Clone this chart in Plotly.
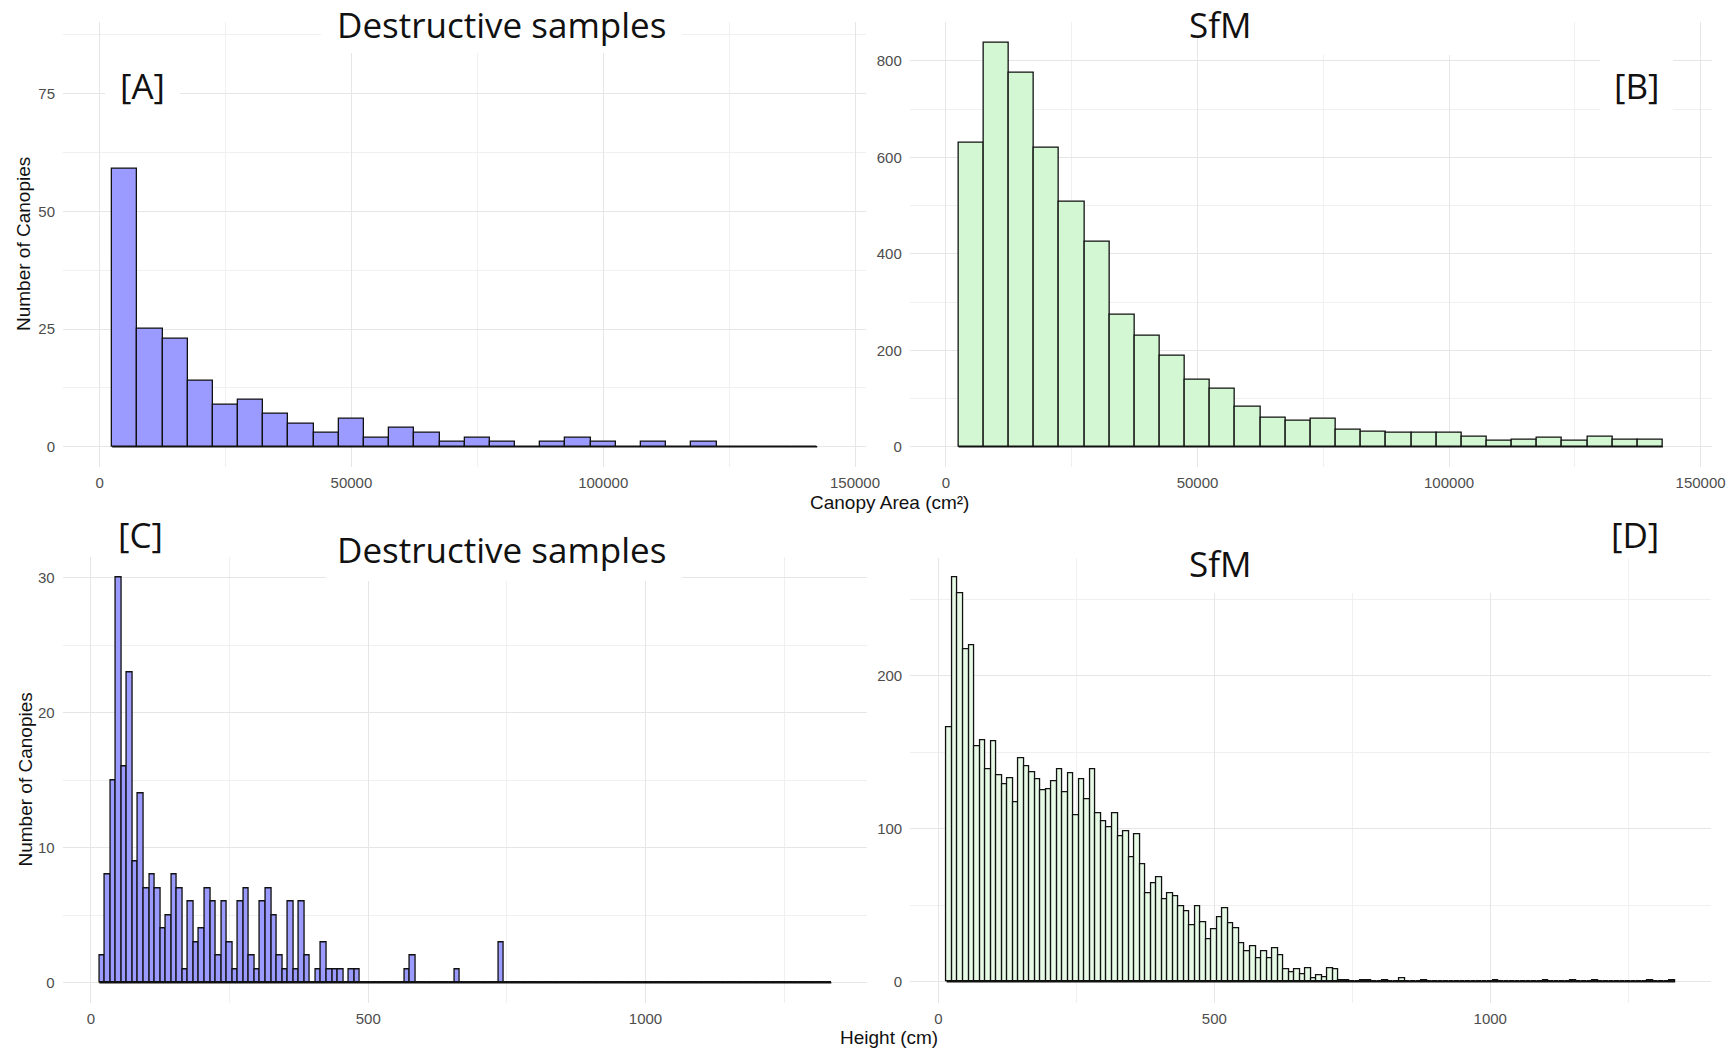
import plotly.graph_objects as go

W, H = 1735, 1050
# horizontal pixel scale observed for the rendered page
W_EFF = 1721

# ---------------- data ----------------
# Canopy area histograms: bins of 5000 cm², first bin starting at 2500 cm²
area_bin_start = 2500
area_bin_width = 5000
area_destructive_counts = [59, 25, 23, 14, 9, 10, 7, 5, 3, 6, 2, 4, 3, 1, 2, 1, 0, 1,
                           2, 1, 0, 1, 0, 1, 0, 0, 0, 0]
area_sfm_counts = [631, 837, 775, 619, 508, 426, 273, 231, 188, 139, 121, 84, 61, 55,
                   58, 35, 31, 30, 29, 29, 21, 12, 15, 18, 13, 21, 14, 15]

# Height histograms: bins of 10 cm, first bin starting at 15 cm, 132 bins (to 1335 cm)
height_bin_start = 15
height_bin_width = 10
height_n_bins = 132
# destructive samples: counts for bins centred 20..480 cm, plus isolated taller trees
height_destructive_main = [2, 8, 15, 30, 16, 23, 9, 14, 7, 8, 7, 4, 5, 8, 7, 1, 6, 3, 4, 7,
                           6, 2, 6, 3, 1, 6, 7, 2, 1, 6, 7, 5, 2, 1, 6, 1, 6, 2, 0, 1,
                           3, 1, 1, 1, 0, 1, 1]
height_destructive_tail = {570: 1, 580: 2, 660: 1, 740: 3}
# SfM: counts for bins centred 20..880 cm, plus sparse tail
height_sfm_main = [166, 264, 254, 217, 220, 154, 158, 139, 157, 135, 129, 133, 117, 146,
                   141, 137, 132, 125, 126, 131, 139, 124, 136, 109, 132, 119, 139, 110,
                   105, 101, 110, 95, 98, 81, 96, 77, 58, 64, 68, 54, 58, 56, 49, 46,
                   37, 49, 39, 28, 34, 42, 48, 38, 35, 25, 20, 23, 15, 20, 15, 22, 17,
                   8, 6, 8, 5, 9, 2, 4, 3, 9, 8, 1, 1, 0, 0, 1, 1, 0, 0, 1, 0, 0, 2,
                   0, 0, 0, 1]
height_sfm_tail = {1010: 1, 1100: 1, 1150: 1, 1190: 1, 1290: 1, 1330: 1}

area_ticks = [0, 50000, 100000, 150000]
height_ticks = [0, 500, 1000]


def centers(start, width, n):
    return [start + width * (i + 0.5) for i in range(n)]


def full_counts(main, tail, start, width, n):
    c = list(main) + [0] * (n - len(main))
    for k, v in tail.items():
        c[int(round((k - start - width / 2) / width))] = v
    return c


area_x = centers(area_bin_start, area_bin_width, len(area_destructive_counts))
height_x = centers(height_bin_start, height_bin_width, height_n_bins)
height_destructive_counts = full_counts(height_destructive_main, height_destructive_tail,
                                        height_bin_start, height_bin_width, height_n_bins)
height_sfm_counts = full_counts(height_sfm_main, height_sfm_tail,
                                height_bin_start, height_bin_width, height_n_bins)

# ---------------- figure ----------------
BLUE = "#9A9AFF"
GREEN_B = "#D3F6D3"
GREEN_D = "#E6FAE6"
OUT = "#111111"

fig = go.Figure()


def add_hist(x, y, width, fill, xa, ya):
    fig.add_trace(go.Bar(x=x, y=y, width=width, marker=dict(color=fill, line=dict(color=OUT, width=1.3)),
                         xaxis=xa, yaxis=ya, showlegend=False, hoverinfo="x+y"))
    lo = x[0] - width / 2
    hi = x[-1] + width / 2
    fig.add_trace(go.Scatter(x=[lo, hi], y=[0, 0], mode="lines", line=dict(color=OUT, width=1.6),
                             xaxis=xa, yaxis=ya, showlegend=False, hoverinfo="skip"))


add_hist(area_x, area_destructive_counts, area_bin_width, BLUE, "x", "y")
add_hist(area_x, area_sfm_counts, area_bin_width, GREEN_B, "x2", "y2")
add_hist(height_x, height_destructive_counts, height_bin_width, BLUE, "x3", "y3")
add_hist(height_x, height_sfm_counts, height_bin_width, GREEN_D, "x4", "y4")


def px_x(p):
    return p / W_EFF


def px_y(p):
    return 1 - p / H


GRID = "#E6E6E6"
MINOR = "#F0F0F0"
TICKFONT = dict(family="Liberation Sans, Arial, sans-serif", size=15, color="#4D4D4D")


def xax(dom, rng, dtick, anchor, ticks):
    return dict(domain=[px_x(dom[0]), px_x(dom[1])], range=rng, tickvals=ticks, tickformat="d",
                showgrid=True, gridcolor=GRID, gridwidth=1.2, zeroline=False, showline=False,
                ticks="", tickfont=TICKFONT, anchor=anchor, ticklabelstandoff=5,
                minor=dict(tick0=0, dtick=dtick / 2, showgrid=True, gridcolor=MINOR, gridwidth=0.8))


def yax(dom, rng, dtick, anchor):
    return dict(domain=[px_y(dom[1]), px_y(dom[0])], range=rng, tick0=0, dtick=dtick,
                showgrid=True, gridcolor=GRID, gridwidth=1.2, zeroline=False, showline=False,
                ticks="", tickfont=TICKFONT, anchor=anchor, ticklabelstandoff=7,
                minor=dict(tick0=0, dtick=dtick / 2, showgrid=True, gridcolor=MINOR, gridwidth=0.8))


fig.update_layout(
    width=W, height=H, autosize=False,
    margin=dict(l=0, r=0, t=0, b=0, pad=0),
    paper_bgcolor="white", plot_bgcolor="white",
    bargap=0,
    xaxis=xax((63, 866), [-7268, 152185], 50000, "y", area_ticks),
    yaxis=yax((21.7, 467), [-4.3, 90.3], 25, "x"),
    xaxis2=xax((909.8, 1712), [-7195, 152270], 50000, "y2", area_ticks),
    yaxis2=yax((21.7, 467), [-42, 881], 200, "x2"),
    xaxis3=xax((62.7, 866.8), [-51, 1399], 500, "y3", height_ticks),
    yaxis3=yax((557.4, 1003), [-1.5, 31.5], 10, "x3"),
    xaxis4=xax((910.2, 1710.5), [-51, 1399], 500, "y4", height_ticks),
    yaxis4=yax((558.3, 1002.8), [-13.8, 276.7], 100, "x4"),
)

# white boxes that mask grid lines behind the overlaid labels
boxes = [
    (321, 0, 682, 53),
    (105, 60, 180, 110),
    (1185, 0, 1500, 35),
    (1262, 0, 1500, 55),
    (1600, 50, 1673, 110),
    (326, 515, 682, 581),
    (1150, 540, 1560, 593),
]
for x0, y0, x1, y1 in boxes:
    fig.add_shape(type="rect", xref="paper", yref="paper", x0=px_x(x0), x1=px_x(x1),
                  y0=px_y(y1), y1=px_y(y0), fillcolor="white", line=dict(width=0), layer="above")

TITLEFONT = dict(family="Open Sans, Lato, sans-serif", size=35, color="#111111")
AXFONT = dict(family="Liberation Sans, Arial, sans-serif", size=19, color="#111111")

labels = [
    ("Destructive samples", 501.7, 24, TITLEFONT, 0),
    ("SfM", 1219.5, 24, TITLEFONT, 0),
    ("Destructive samples", 501.7, 549.5, TITLEFONT, 0),
    ("SfM", 1220, 563.5, TITLEFONT, 0),
    ("[A]", 142.6, 85.5, TITLEFONT, 0),
    ("[B]", 1636.5, 85.5, TITLEFONT, 0),
    ("[C]", 140, 534, TITLEFONT, 0),
    ("[D]", 1635.4, 534, TITLEFONT, 0),
    ("Canopy Area (cm²)", 889, 502, AXFONT, 0),
    ("Height (cm)", 888.5, 1037, AXFONT, 0),
    ("Number of Canopies", 24, 244, AXFONT, -90),
    ("Number of Canopies", 24.5, 780, AXFONT, -90),
]
for text, x, y, font, ang in labels:
    fig.add_annotation(text=text, x=px_x(x), y=px_y(y), xref="paper", yref="paper",
                       xanchor="center", yanchor="middle", showarrow=False, font=font,
                       textangle=ang)

fig.write_html("out.html")
